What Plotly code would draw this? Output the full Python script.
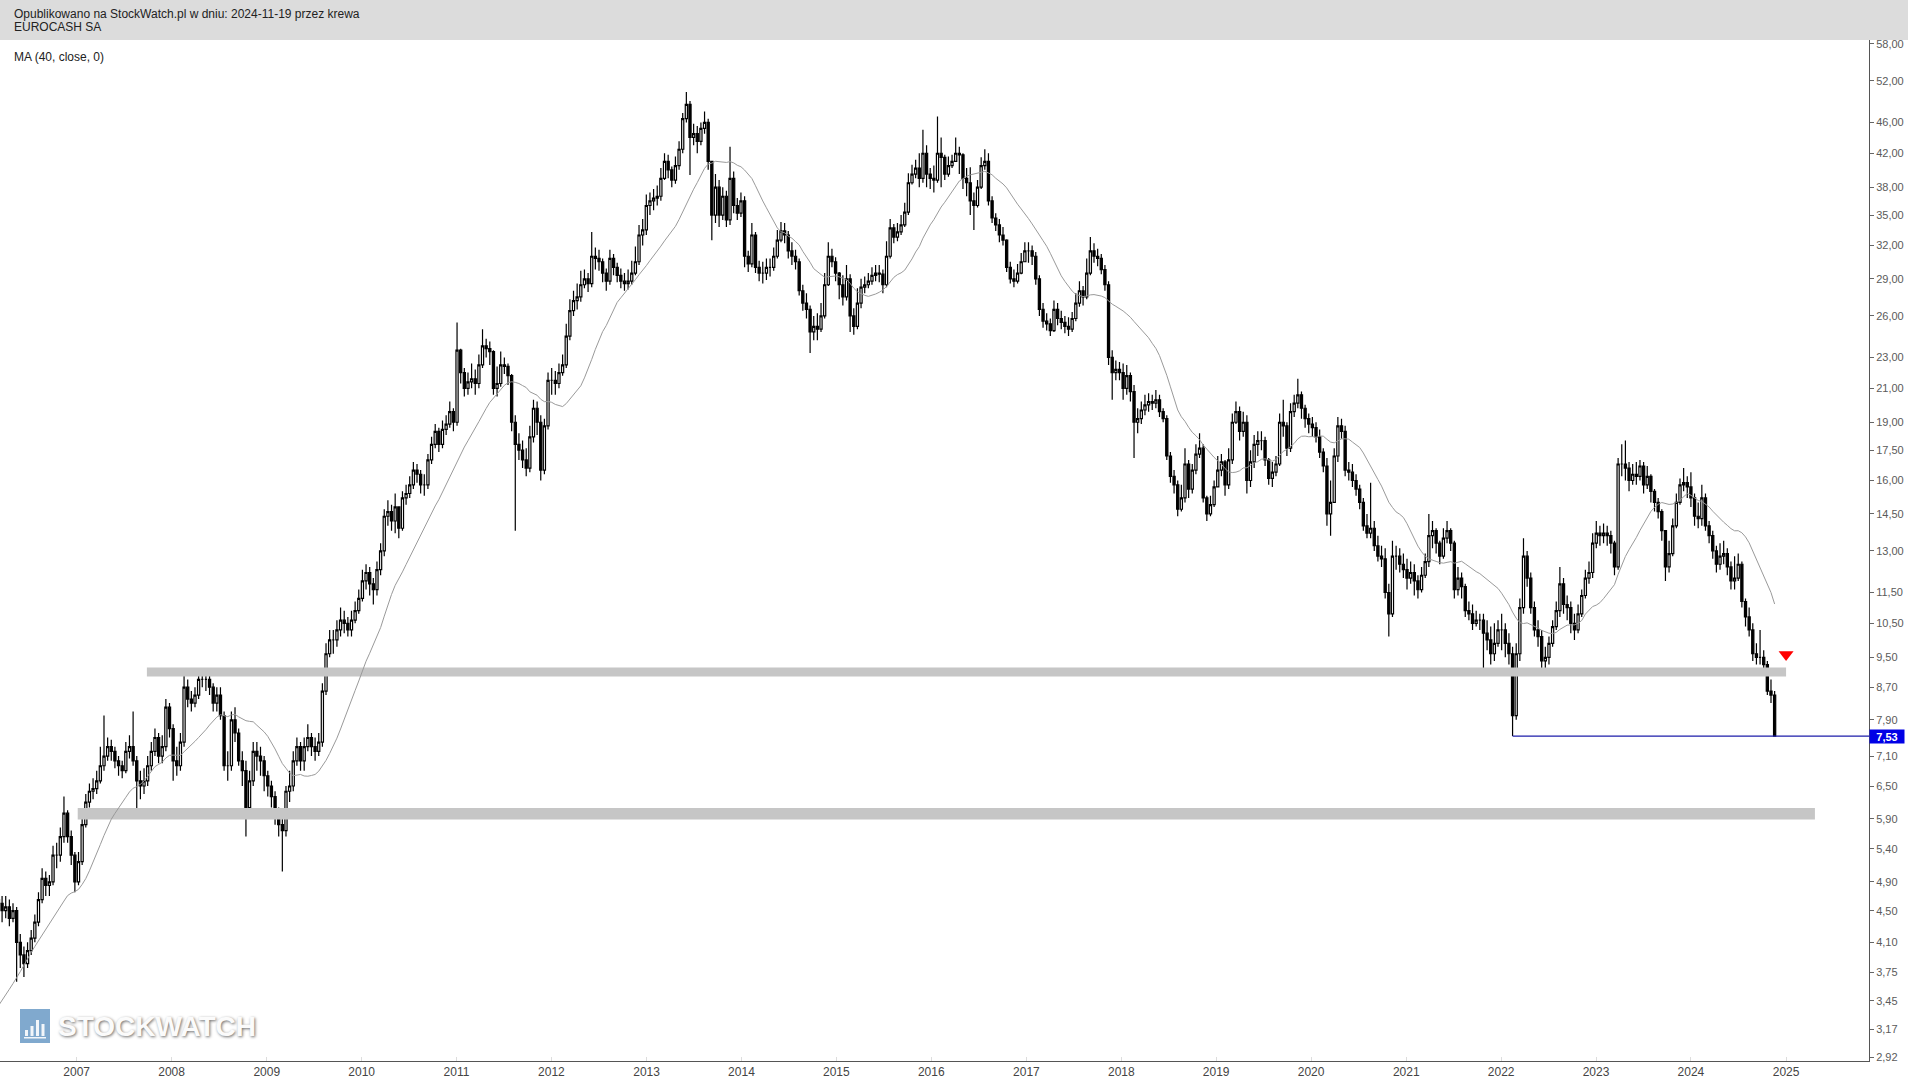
import math
import numpy as np
import pandas as pd
import plotly.graph_objects as go

# ---------------- data (bi-weekly candles) ----------------
last_date = "2024-11-18"
first_open = 4.65

close = [
    # 2006 (from March)
    4.60, 4.50, 4.55, 4.40, 4.50, 4.10, 3.95, 3.85, 4.00, 4.15, 4.35, 4.65, 4.95, 4.85, 4.90, 5.30, 5.30, 5.60, 6.00, 5.60, 5.30, 4.90,
    # 2007
    5.20, 5.80, 6.20, 6.40, 6.45, 6.60, 6.90, 7.10, 7.30, 7.20, 7.00, 6.90, 6.80, 7.20, 7.30, 7.00, 6.60, 6.50, 6.60, 6.90, 7.20, 7.50, 7.10, 7.30, 8.20, 7.70,
    # 2008
    7.00, 6.90, 7.40, 8.70, 8.40, 8.30, 8.50, 8.90, 8.90, 8.90, 8.70, 8.30, 8.50, 8.00, 6.90, 6.90, 7.90, 7.60, 7.00, 6.80, 6.10, 6.60, 7.20, 7.10, 7.00, 6.70,
    # 2009
    6.50, 6.30, 6.00, 5.80, 5.70, 6.40, 6.50, 7.00, 7.30, 7.00, 7.30, 7.50, 7.30, 7.20, 7.40, 8.60, 9.60, 10.00, 10.00, 10.30, 10.60, 10.50, 10.30, 10.60, 10.90, 11.30,
    # 2010
    11.90, 12.20, 11.80, 11.60, 12.30, 13.00, 14.40, 14.60, 14.20, 14.80, 13.90, 15.20, 15.40, 15.80, 16.50, 16.30, 15.80, 15.80, 17.00, 17.80, 18.50, 17.80, 18.60, 18.90, 19.60, 19.00,
    # 2011
    23.50, 22.00, 21.00, 21.40, 21.60, 21.30, 22.50, 23.80, 23.60, 23.40, 21.00, 21.30, 22.50, 22.40, 21.80, 19.00, 17.80, 17.50, 17.00, 16.60, 18.20, 19.80, 19.00, 16.50, 18.80, 21.50,
    # 2012
    21.50, 21.30, 22.00, 22.50, 24.50, 26.40, 27.20, 27.50, 28.50, 29.00, 28.60, 31.00, 30.80, 30.50, 29.50, 28.80, 30.80, 30.00, 29.30, 28.80, 28.60, 28.80, 29.50, 30.50, 33.00, 33.50, 36.00,
    # 2013
    36.50, 36.80, 37.00, 39.00, 41.00, 40.00, 38.80, 40.50, 42.50, 46.50, 48.50, 44.00, 44.50, 43.50, 45.20, 46.00, 41.00, 35.00, 38.00, 35.00, 37.00, 34.50, 39.00, 36.00, 35.20, 36.50,
    # 2014
    31.00, 30.30, 33.00, 30.00, 29.50, 29.50, 30.00, 30.00, 31.00, 32.50, 33.40, 33.00, 31.50, 31.00, 30.50, 28.00, 27.00, 26.50, 24.80, 25.20, 25.00, 26.00, 28.50, 31.00, 30.50, 29.50,
    # 2015
    28.50, 27.50, 29.00, 26.00, 25.20, 27.00, 28.30, 28.50, 28.80, 29.30, 29.50, 29.40, 28.50, 31.00, 33.70, 32.80, 33.30, 34.00, 35.30, 38.50, 39.50, 40.20, 39.00, 42.00, 39.50, 39.00,
    # 2016
    38.80, 42.00, 41.50, 39.50, 40.50, 41.00, 42.00, 41.80, 39.00, 38.50, 36.50, 36.00, 38.00, 40.50, 41.00, 36.50, 34.70, 34.00, 33.00, 32.50, 30.00, 29.00, 28.80, 29.50, 30.50, 31.50,
    # 2017
    31.50, 31.00, 29.00, 26.50, 25.60, 25.40, 24.90, 26.50, 25.80, 25.50, 25.20, 25.00, 25.80, 27.00, 28.00, 27.50, 29.50, 31.50, 31.00, 30.80, 29.80, 28.50, 23.00, 22.00, 22.20, 22.00,
    # 2018
    21.00, 21.80, 20.80, 19.00, 19.20, 19.70, 20.00, 20.20, 20.10, 20.30, 19.60, 19.20, 17.20, 16.20, 15.80, 14.70, 15.20, 16.80, 15.60, 16.50, 17.30, 17.60, 15.20, 14.50, 14.90, 15.70,
    # 2019
    16.50, 16.90, 15.80, 17.00, 19.00, 19.60, 18.50, 19.00, 16.00, 16.90, 17.80, 18.00, 18.00, 17.00, 16.10, 16.40, 16.80, 19.00, 18.80, 17.60, 19.60, 20.10, 20.60, 19.80, 19.20, 18.90,
    # 2020
    18.70, 18.20, 17.40, 16.70, 14.50, 15.00, 17.20, 18.80, 18.50, 16.50, 16.40, 16.00, 15.60, 15.00, 14.00, 13.70, 13.90, 13.20, 12.80, 12.70, 11.50, 10.80, 12.80, 12.80, 12.50, 12.30,
    # 2021
    12.00, 12.20, 11.90, 11.60, 12.10, 12.60, 13.60, 13.80, 13.30, 12.80, 13.50, 13.80, 13.30, 11.60, 12.00, 11.70, 10.90, 10.80, 10.50, 10.60, 10.60, 10.20, 10.00, 9.60, 9.90, 10.30,
    # 2022
    10.30, 9.90, 9.60, 8.00, 9.60, 11.00, 12.80, 12.00, 11.00, 10.30, 10.10, 9.40, 9.50, 9.90, 10.40, 10.90, 11.80, 11.10, 11.00, 10.50, 10.30, 10.80, 11.40, 12.00, 12.20, 13.30,
    # 2023
    13.70, 13.60, 13.70, 13.60, 13.30, 12.40, 16.80, 16.80, 16.60, 16.00, 16.30, 16.20, 16.70, 15.80, 16.20, 15.50, 15.00, 14.60, 13.80, 12.40, 12.90, 14.00, 15.00, 15.80, 15.90, 15.70,
    # 2024 (to November)
    15.20, 14.40, 14.30, 15.20, 14.00, 13.60, 13.00, 12.50, 12.80, 12.90, 12.40, 11.90, 12.00, 12.50, 11.20, 10.70, 10.30, 9.60, 9.50, 9.50, 9.30, 8.60, 8.50, 7.53,
]

high = [
    4.75, 4.70, 4.70, 4.65, 4.60, 4.55, 4.20, 4.05, 4.10, 4.25, 4.45, 4.75, 5.10, 5.05, 5.00, 5.45, 5.50, 5.75, 6.30, 6.05, 5.70, 5.35,
    5.35, 5.95, 6.35, 6.55, 6.65, 6.80, 7.30, 8.00, 7.50, 7.45, 7.30, 7.10, 7.00, 7.40, 7.55, 8.10, 7.10, 6.80, 6.85, 7.10, 7.40, 7.70, 7.60, 7.55, 8.40, 8.30,
    7.80, 7.30, 7.60, 9.20, 8.90, 8.60, 8.70, 9.10, 9.15, 9.10, 9.00, 8.80, 8.70, 8.70, 8.10, 7.20, 8.10, 8.20, 7.70, 7.20, 7.00, 6.80, 7.40, 7.40, 7.30, 7.10,
    6.80, 6.60, 6.40, 6.10, 6.00, 6.50, 6.80, 7.20, 7.50, 7.40, 7.50, 7.80, 7.60, 7.50, 7.60, 8.80, 9.90, 10.30, 10.30, 10.60, 11.00, 10.90, 10.70, 10.90, 11.20, 11.60,
    12.30, 12.50, 12.40, 12.00, 12.60, 13.30, 14.70, 15.10, 14.90, 15.40, 14.80, 15.50, 15.80, 16.20, 16.90, 16.80, 16.50, 16.30, 17.30, 18.20, 18.90, 18.70, 19.10, 19.40, 20.20, 19.80,
    25.50, 23.60, 22.30, 22.00, 22.60, 22.20, 23.20, 25.00, 24.30, 24.10, 23.50, 22.40, 23.40, 23.00, 22.60, 21.90, 19.40, 18.40, 18.00, 17.60, 18.80, 20.30, 20.20, 19.40, 19.20, 22.00,
    22.30, 22.10, 22.60, 23.20, 25.40, 27.30, 28.00, 28.60, 29.70, 29.80, 29.50, 33.30, 31.80, 31.60, 30.80, 29.90, 31.60, 31.20, 30.40, 29.90, 29.50, 29.80, 30.60, 31.90, 34.00, 34.60, 37.20,
    37.40, 37.80, 38.20, 40.20, 42.00, 41.80, 40.40, 41.60, 43.50, 47.30, 50.30, 49.00, 45.80, 45.50, 46.00, 47.50, 46.50, 41.00, 39.50, 38.80, 38.00, 37.60, 42.80, 39.80, 36.80, 37.40,
    37.00, 31.50, 34.20, 33.30, 30.60, 30.50, 30.80, 30.80, 31.80, 33.50, 34.30, 34.20, 33.40, 32.30, 31.60, 30.80, 28.50, 27.80, 26.80, 26.00, 26.20, 27.00, 29.50, 32.30, 31.70, 30.90,
    29.60, 29.30, 30.20, 29.40, 26.60, 28.20, 29.00, 29.20, 29.50, 30.00, 30.20, 30.20, 29.80, 32.40, 34.60, 34.10, 34.20, 35.00, 36.30, 39.60, 40.60, 41.20, 42.00, 45.00, 43.00, 40.20,
    40.50, 46.80, 44.00, 41.80, 41.60, 41.80, 44.00, 42.80, 42.00, 40.20, 40.30, 37.40, 38.80, 41.50, 42.50, 42.00, 37.00, 35.20, 34.60, 33.80, 32.60, 30.50, 29.80, 30.30, 31.30, 32.30,
    32.30, 32.00, 31.40, 29.30, 27.00, 26.20, 25.80, 27.20, 27.00, 26.40, 26.00, 25.90, 26.30, 27.80, 28.80, 28.40, 30.80, 32.80, 32.20, 31.70, 31.20, 30.20, 28.80, 23.50, 22.80, 22.70,
    22.60, 22.50, 22.00, 21.20, 19.80, 20.20, 20.60, 20.70, 20.60, 20.90, 20.60, 19.80, 19.40, 17.40, 16.50, 16.00, 15.80, 17.60, 17.00, 16.80, 17.80, 18.40, 17.80, 15.30, 15.30, 16.00,
    17.20, 17.30, 17.00, 17.60, 19.50, 20.20, 19.90, 19.60, 19.40, 17.50, 18.30, 18.50, 18.50, 18.20, 17.10, 16.90, 17.20, 19.50, 20.30, 19.00, 20.10, 20.60, 21.60, 20.80, 20.00, 19.50,
    19.30, 19.00, 18.60, 17.60, 17.10, 16.00, 17.60, 19.30, 19.20, 18.80, 16.90, 16.80, 16.30, 15.80, 15.20, 14.50, 15.90, 14.20, 13.60, 13.20, 13.10, 11.80, 13.40, 13.20, 13.10, 12.90,
    12.70, 12.60, 12.50, 12.10, 12.40, 12.90, 14.50, 14.20, 13.90, 13.40, 13.90, 14.20, 13.90, 13.40, 12.40, 12.20, 11.80, 11.20, 11.10, 10.90, 10.80, 10.80, 10.60, 10.40, 10.50, 10.60,
    10.80, 10.50, 10.20, 9.80, 9.90, 11.30, 13.50, 13.00, 12.20, 11.20, 10.60, 10.30, 9.80, 10.10, 10.60, 11.20, 12.40, 12.00, 11.40, 11.20, 10.80, 11.10, 11.60, 12.30, 12.60, 13.70,
    14.20, 14.00, 14.10, 14.00, 13.80, 13.40, 17.10, 17.80, 18.00, 16.90, 16.80, 16.90, 17.00, 16.90, 16.70, 16.30, 15.60, 15.20, 14.70, 13.80, 13.40, 14.30, 15.40, 16.10, 16.60, 16.20,
    16.40, 15.40, 15.00, 15.80, 15.40, 14.20, 13.80, 13.20, 13.30, 13.40, 13.10, 12.60, 12.80, 12.90, 12.60, 11.30, 11.00, 10.50, 9.90, 10.30, 9.70, 9.40, 8.90, 8.60,
]

low = [
    4.45, 4.35, 4.40, 4.30, 4.35, 3.65, 3.80, 3.70, 3.80, 3.95, 4.10, 4.30, 4.60, 4.70, 4.70, 4.85, 5.10, 5.20, 5.50, 5.50, 5.15, 4.75,
    4.85, 5.15, 5.75, 6.10, 6.25, 6.35, 6.55, 6.80, 7.00, 7.00, 6.85, 6.70, 6.65, 6.75, 7.05, 6.90, 6.00, 6.25, 6.35, 6.50, 6.80, 7.10, 6.95, 6.95, 7.20, 7.50,
    6.60, 6.70, 6.80, 7.30, 8.20, 8.10, 8.20, 8.40, 8.70, 8.60, 8.50, 8.10, 8.10, 7.90, 6.80, 6.60, 6.80, 7.40, 6.90, 6.50, 5.60, 5.90, 6.50, 6.80, 6.70, 6.40,
    6.30, 6.10, 5.80, 5.60, 5.05, 5.60, 6.20, 6.40, 6.90, 6.80, 6.80, 7.20, 7.10, 7.00, 7.10, 7.30, 8.50, 9.50, 9.60, 9.80, 10.10, 10.20, 10.10, 10.10, 10.50, 10.80,
    11.20, 11.60, 11.40, 11.10, 11.40, 12.10, 12.80, 14.00, 13.80, 13.70, 13.50, 13.80, 14.90, 15.20, 15.60, 15.90, 15.40, 15.30, 15.60, 16.80, 17.60, 17.40, 17.60, 18.30, 18.70, 18.50,
    18.80, 21.30, 20.50, 20.60, 21.00, 20.60, 21.00, 22.30, 23.00, 22.50, 20.60, 20.50, 21.10, 21.90, 21.20, 18.50, 13.80, 17.00, 16.60, 16.20, 16.40, 17.90, 18.30, 16.00, 16.30, 18.60,
    20.60, 20.60, 21.00, 21.80, 22.30, 24.20, 26.00, 26.50, 27.10, 28.20, 27.90, 28.30, 29.80, 29.70, 28.70, 28.00, 28.50, 29.30, 28.70, 28.20, 28.00, 28.10, 28.50, 29.30, 30.20, 32.00, 33.00,
    35.00, 35.50, 36.00, 36.50, 38.80, 39.00, 38.00, 38.40, 40.00, 42.00, 46.00, 39.40, 43.00, 42.00, 43.00, 44.50, 40.00, 32.50, 34.20, 33.80, 34.50, 33.80, 34.00, 35.20, 34.50, 34.80,
    30.00, 29.60, 30.00, 29.50, 28.80, 28.60, 28.90, 29.20, 29.70, 30.80, 32.30, 32.20, 30.80, 30.20, 29.80, 27.60, 26.40, 25.80, 23.30, 24.20, 24.20, 24.80, 25.80, 28.40, 30.00, 28.80,
    27.30, 26.80, 27.20, 24.80, 24.60, 25.00, 26.60, 27.80, 28.20, 28.50, 28.80, 28.70, 27.80, 28.30, 30.80, 32.20, 32.40, 33.00, 33.80, 35.00, 38.30, 39.00, 38.00, 38.50, 38.00, 37.80,
    37.40, 38.50, 38.00, 38.80, 39.20, 40.20, 41.00, 39.50, 37.80, 37.00, 35.00, 33.50, 35.80, 37.80, 40.00, 36.00, 34.20, 33.40, 32.30, 32.00, 29.60, 28.60, 28.30, 28.60, 29.40, 30.60,
    30.40, 30.20, 28.50, 26.00, 25.10, 24.90, 24.50, 24.80, 25.30, 25.00, 24.70, 24.50, 24.80, 25.60, 26.70, 26.80, 27.30, 29.30, 30.40, 30.10, 29.40, 28.00, 22.50, 20.30, 21.50, 21.50,
    20.30, 20.60, 20.20, 17.10, 18.40, 18.90, 19.40, 19.60, 19.70, 19.80, 19.30, 19.00, 17.00, 15.90, 15.40, 14.40, 14.60, 15.00, 15.20, 15.40, 16.30, 17.10, 15.00, 14.20, 14.40, 14.80,
    15.70, 16.20, 15.30, 15.60, 16.80, 18.90, 18.00, 18.20, 15.40, 15.70, 16.60, 17.20, 17.50, 16.70, 15.80, 15.70, 16.20, 16.70, 18.20, 17.20, 17.40, 19.30, 19.80, 19.20, 18.70, 18.40,
    18.20, 17.90, 17.10, 16.40, 14.00, 13.60, 15.00, 16.90, 18.10, 16.20, 16.00, 15.70, 15.30, 14.70, 13.80, 13.50, 13.50, 13.00, 12.60, 12.40, 11.30, 10.10, 10.70, 12.30, 12.20, 12.00,
    11.60, 11.80, 11.40, 11.30, 11.50, 12.00, 12.40, 13.10, 12.90, 12.50, 12.70, 13.30, 13.00, 11.30, 11.40, 11.30, 10.70, 10.60, 10.30, 10.40, 10.30, 9.00, 9.70, 9.30, 9.40, 9.80,
    9.70, 9.50, 9.30, 7.53, 7.90, 9.40, 10.80, 11.70, 10.80, 10.10, 9.80, 9.00, 9.20, 9.30, 9.80, 10.30, 10.70, 10.80, 10.60, 10.20, 10.00, 10.20, 10.70, 11.30, 11.80, 12.00,
    13.10, 13.20, 13.30, 13.20, 12.90, 12.10, 12.30, 16.20, 16.00, 15.50, 15.80, 15.80, 16.00, 15.40, 15.60, 15.00, 14.60, 14.30, 13.40, 11.90, 12.20, 12.80, 13.90, 14.90, 15.50, 15.20,
    14.80, 14.00, 13.90, 14.00, 13.80, 13.30, 12.70, 12.20, 12.30, 12.50, 12.10, 11.60, 11.60, 11.90, 11.00, 10.40, 10.10, 9.40, 9.30, 9.30, 9.10, 8.50, 8.30, 7.53,
]

# MA(40) values for the first candles (warm-up part)
ma_lead = [3.40, 3.46, 3.52, 3.57, 3.63, 3.69, 3.76, 3.83, 3.91, 3.98,
           4.05, 4.12, 4.19, 4.26, 4.33, 4.40, 4.48, 4.55, 4.63]
ma_period = 20  # 20 bi-weekly candles = 40 weeks

year_ticks = list(range(2007, 2026))
y_tick_vals = [58, 52, 46, 42, 38, 35, 32, 29, 26, 23, 21, 19, 17.5, 16, 14.5, 13,
               11.5, 10.5, 9.5, 8.7, 7.9, 7.1, 6.5, 5.9, 5.4, 4.9, 4.5, 4.1, 3.75,
               3.45, 3.17, 2.92]
y_tick_text = ["58,00", "52,00", "46,00", "42,00", "38,00", "35,00", "32,00", "29,00",
               "26,00", "23,00", "21,00", "19,00", "17,50", "16,00", "14,50", "13,00",
               "11,50", "10,50", "9,50", "8,70", "7,90", "7,10", "6,50", "5,90", "5,40",
               "4,90", "4,50", "4,10", "3,75", "3,45", "3,17", "2,92"]

band_names = ["upper", "lower"]
band_start = ["2007-09-28", "2007-01-05"]
band_end = ["2025-01-01", "2025-04-22"]
band_low = [8.98, 5.89]
band_high = [9.22, 6.09]

support_start = "2022-02-14"
signal_x = ["2025-01-01"]
signal_y = [9.58]

x_range = ["2006-03-12", "2025-11-16"]
y_range = [2.889, 58.65]

# ---------------- derived series ----------------
dates = pd.date_range(end=last_date, periods=len(close), freq="14D")
opens = [first_open] + close[:-1]
o = np.array(opens)
c = np.array(close)
h = np.maximum(np.array(high), np.maximum(o, c))
l = np.minimum(np.array(low), np.minimum(o, c))

ma = pd.Series(close).rolling(ma_period).mean().to_numpy()
ma[:len(ma_lead)] = ma_lead

# ---------------- layout geometry ----------------
W, H = 1908, 1081
ML, MR, MT, MB = 0, 39, 40, 20
PW = W - ML - MR
PH = H - MT - MB


def pxx(xp):
    return (xp - ML) / PW


def pyy(yp):
    return (H - MB - yp) / PH


fig = go.Figure()

# horizontal zones
for i in range(len(band_names)):
    fig.add_trace(go.Scatter(
        x=[band_start[i], band_end[i], band_end[i], band_start[i], band_start[i]],
        y=[band_low[i], band_low[i], band_high[i], band_high[i], band_low[i]],
        mode="lines", fill="toself", fillcolor="#c6c6c6",
        line=dict(width=0, color="#c6c6c6"), hoverinfo="skip", showlegend=False))

# moving average
fig.add_trace(go.Scatter(x=dates, y=ma, mode="lines",
                         line=dict(color="#9a9a9a", width=1),
                         hoverinfo="skip", showlegend=False))

# candles
fig.add_trace(go.Candlestick(
    x=dates, open=o, high=h, low=l, close=c,
    increasing=dict(line=dict(color="#000000", width=1.2), fillcolor="#ffffff"),
    decreasing=dict(line=dict(color="#000000", width=1.2), fillcolor="#000000"),
    whiskerwidth=0, showlegend=False, hoverinfo="skip"))

# last price / support line
fig.add_trace(go.Scatter(x=[support_start, x_range[1]], y=[close[-1], close[-1]],
                         mode="lines", line=dict(color="#1c1caa", width=1.2),
                         hoverinfo="skip", showlegend=False))

# red signal triangle
fig.add_trace(go.Scatter(x=signal_x, y=signal_y, mode="markers",
                         marker=dict(symbol="triangle-down", size=13, color="#ff0000",
                                     line=dict(width=0)),
                         hoverinfo="skip", showlegend=False))

tick_font = dict(family="Liberation Sans, Arial, sans-serif", size=11, color="#5a5a5a")

fig.update_layout(
    width=W, height=H,
    margin=dict(l=ML, r=MR, t=MT, b=MB, pad=0, autoexpand=False),
    paper_bgcolor="#ffffff", plot_bgcolor="#ffffff",
    font=dict(family="Liberation Sans, Arial, sans-serif", size=12, color="#222222"),
    showlegend=False,
    boxgap=0.15,
    xaxis=dict(type="date", range=x_range, rangeslider=dict(visible=False),
               tickvals=[f"{y}-01-01" for y in year_ticks],
               ticktext=[str(y) for y in year_ticks],
               showgrid=False, zeroline=False, showline=True, linecolor="#555555",
               linewidth=1, ticks="inside", ticklen=4, tickcolor="#dddddd",
               tickfont=dict(family="Liberation Sans, Arial, sans-serif",
                             size=12, color="#444444"),
               fixedrange=True, automargin=False),
    yaxis=dict(type="log", side="right",
               range=[math.log10(y_range[0]), math.log10(y_range[1])],
               tickvals=y_tick_vals, ticktext=y_tick_text,
               showgrid=False, zeroline=False, showline=True, linecolor="#555555",
               linewidth=1, ticks="outside", ticklen=4, tickcolor="#666666",
               tickfont=tick_font, fixedrange=True, automargin=False),
)

shapes = [
    # header band
    dict(type="rect", xref="paper", yref="paper", x0=pxx(0), x1=pxx(W),
         y0=pyy(40), y1=pyy(0), fillcolor="#dcdcdc", line=dict(width=0), layer="below"),
    # watermark icon
    dict(type="rect", xref="paper", yref="paper", x0=pxx(20), x1=pxx(50),
         y0=pyy(1043), y1=pyy(1009), fillcolor="#6a9ac6", line=dict(width=0),
         opacity=0.85, layer="above"),
]
bar_tops = [1030, 1026, 1020, 1024]
for k, top in enumerate(bar_tops):
    x0 = 25 + k * 5.5
    shapes.append(dict(type="rect", xref="paper", yref="paper", x0=pxx(x0), x1=pxx(x0 + 3),
                       y0=pyy(1036), y1=pyy(top), fillcolor="#f2f6fa",
                       line=dict(width=0), layer="above"))
shapes.append(dict(type="rect", xref="paper", yref="paper", x0=pxx(24), x1=pxx(46),
                   y0=pyy(1038.5), y1=pyy(1037), fillcolor="#f2f6fa",
                   line=dict(width=0), layer="above"))
fig.update_layout(shapes=shapes)

last_label = f"{close[-1]:.2f}".replace(".", ",")
annotations = [
    dict(text="Opublikowano na StockWatch.pl w dniu: 2024-11-19 przez krewa",
         xref="paper", yref="paper", x=pxx(12), y=pyy(14), xanchor="left", yanchor="middle",
         showarrow=False, font=dict(size=12, color="#222222")),
    dict(text="EUROCASH SA", xref="paper", yref="paper", x=pxx(12), y=pyy(27),
         xanchor="left", yanchor="middle", showarrow=False,
         font=dict(size=12, color="#222222")),
    dict(text="MA (40, close, 0)", xref="paper", yref="paper", x=pxx(12), y=pyy(57),
         xanchor="left", yanchor="middle", showarrow=False,
         font=dict(size=12, color="#222222")),
    dict(text="<b>" + last_label + "</b>", xref="paper", yref="y", x=1.0,
         y=math.log10(close[-1]), xanchor="left", yanchor="middle", showarrow=False,
         bgcolor="#0000e6", font=dict(size=11, color="#ffffff"), width=34, height=13,
         borderpad=0, xshift=0),
    # watermark text (white face with grey glow)
    dict(text="<b>STOCKWATCH</b>", xref="paper", yref="paper", x=pxx(56), y=pyy(1026),
         xanchor="left", yanchor="middle", showarrow=False,
         font=dict(family="Liberation Sans, Arial, sans-serif",
                   size=28, color="#fbfbfb",
                   shadow="1px 1px 3px #6e6e6e")),
]
fig.update_layout(annotations=annotations)

fig.write_html("out.html",
               config={"displayModeBar": False},
               post_script="document.body.style.margin='0px';document.body.style.overflow='hidden';")
